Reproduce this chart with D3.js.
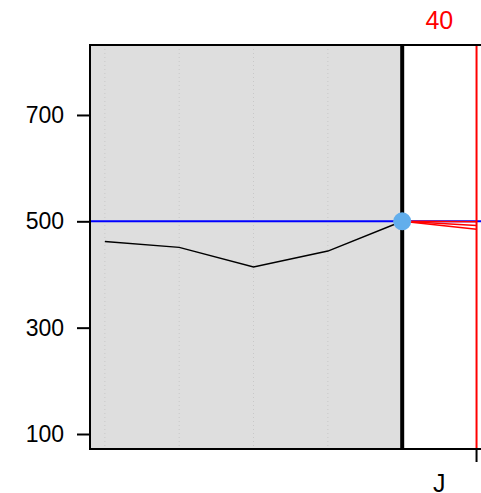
<!DOCTYPE html>
<html><head><meta charset="utf-8">
<script src="https://cdn.jsdelivr.net/npm/d3@7"></script>
<style>body{margin:0;background:#fff}svg{display:block;font-family:"Liberation Sans",Arial,sans-serif}</style>
</head><body>
<svg id="c" width="481" height="493"></svg>
<script>
// data
const histIndex = [0, 1, 2, 3, 4];
const histValues = [462, 451, 414, 444, 500];
const refLevel = 500;
const forecastEnds = [499, 492, 485];
const forecastIndex = 5;
const yTicks = [100, 300, 500, 700];
const periodLabel = "40";
const xLabel = "J";

const svg = d3.select("#c");
const x = d3.scaleLinear().domain([-0.2, 5.06]).range([90, 481]);
const y = d3.scaleLinear().domain([71.8, 831.6]).range([449, 45]);

// grey panel
svg.append("rect").attr("x", x(-0.2)).attr("y", y(831.6))
  .attr("width", x(4) - x(-0.2)).attr("height", y(71.8) - y(831.6))
  .attr("fill", "#dedede");

// dotted grid
svg.selectAll(".grid").data(histIndex.slice(0, 4)).join("line")
  .attr("x1", d => x(d)).attr("x2", d => x(d))
  .attr("y1", y(831.6)).attr("y2", y(71.8))
  .attr("stroke", "#c8c8c8").attr("stroke-width", 1).attr("stroke-dasharray", "1,3");

// y axis
const yAxis = d3.axisLeft(y).tickValues(yTicks).tickSize(13).tickPadding(13);
const ga = svg.append("g").attr("transform", `translate(${x(-0.2)},0)`).call(yAxis);
ga.select(".domain").remove();
ga.selectAll(".tick line").attr("stroke", "#000").attr("stroke-width", 2);
ga.selectAll(".tick text").attr("font-size", 23).attr("fill", "#000")
  .attr("font-family", "Liberation Sans, Arial, sans-serif");

// blue reference line
svg.append("line").attr("x1", x(-0.2)).attr("x2", 481)
  .attr("y1", y(refLevel)).attr("y2", y(refLevel))
  .attr("stroke", "#0000ff").attr("stroke-width", 2);

// black history line
svg.append("path").datum(histIndex.map((d, i) => [d, histValues[i]]))
  .attr("d", d3.line().x(d => x(d[0])).y(d => y(d[1])))
  .attr("fill", "none").attr("stroke", "#000").attr("stroke-width", 1.5);

// red forecast lines
forecastEnds.forEach(v => {
  svg.append("line").attr("x1", x(4)).attr("y1", y(histValues[4]))
    .attr("x2", x(forecastIndex)).attr("y2", y(v))
    .attr("stroke", "#ff0000").attr("stroke-width", 1.5);
});

// red vertical line
svg.append("line").attr("x1", x(forecastIndex)).attr("x2", x(forecastIndex))
  .attr("y1", y(831.6)).attr("y2", y(71.8))
  .attr("stroke", "#ff0000").attr("stroke-width", 2);

// panel border
svg.append("path")
  .attr("d", `M481,${y(831.6)}H${x(-0.2)}V${y(71.8)}H481`)
  .attr("fill", "none").attr("stroke", "#000").attr("stroke-width", 2);

// thick vertical at current point
svg.append("line").attr("x1", x(4)).attr("x2", x(4))
  .attr("y1", y(831.6)).attr("y2", y(71.8))
  .attr("stroke", "#000").attr("stroke-width", 4);

// bottom tick at forecast
svg.append("line").attr("x1", x(forecastIndex)).attr("x2", x(forecastIndex))
  .attr("y1", y(71.8)).attr("y2", y(71.8) + 13)
  .attr("stroke", "#000").attr("stroke-width", 2);

// point
svg.append("circle").attr("cx", x(4)).attr("cy", y(histValues[4])).attr("r", 9)
  .attr("fill", "#62aeec");

// labels
svg.append("text").attr("x", (x(4) + x(forecastIndex)) / 2).attr("y", 29)
  .attr("text-anchor", "middle").attr("font-size", 25).attr("fill", "#ff0000").text(periodLabel);
svg.append("text").attr("x", (x(4) + x(forecastIndex)) / 2).attr("y", 492)
  .attr("text-anchor", "middle").attr("font-size", 25).attr("fill", "#000").text(xLabel);
</script>
</body></html>
